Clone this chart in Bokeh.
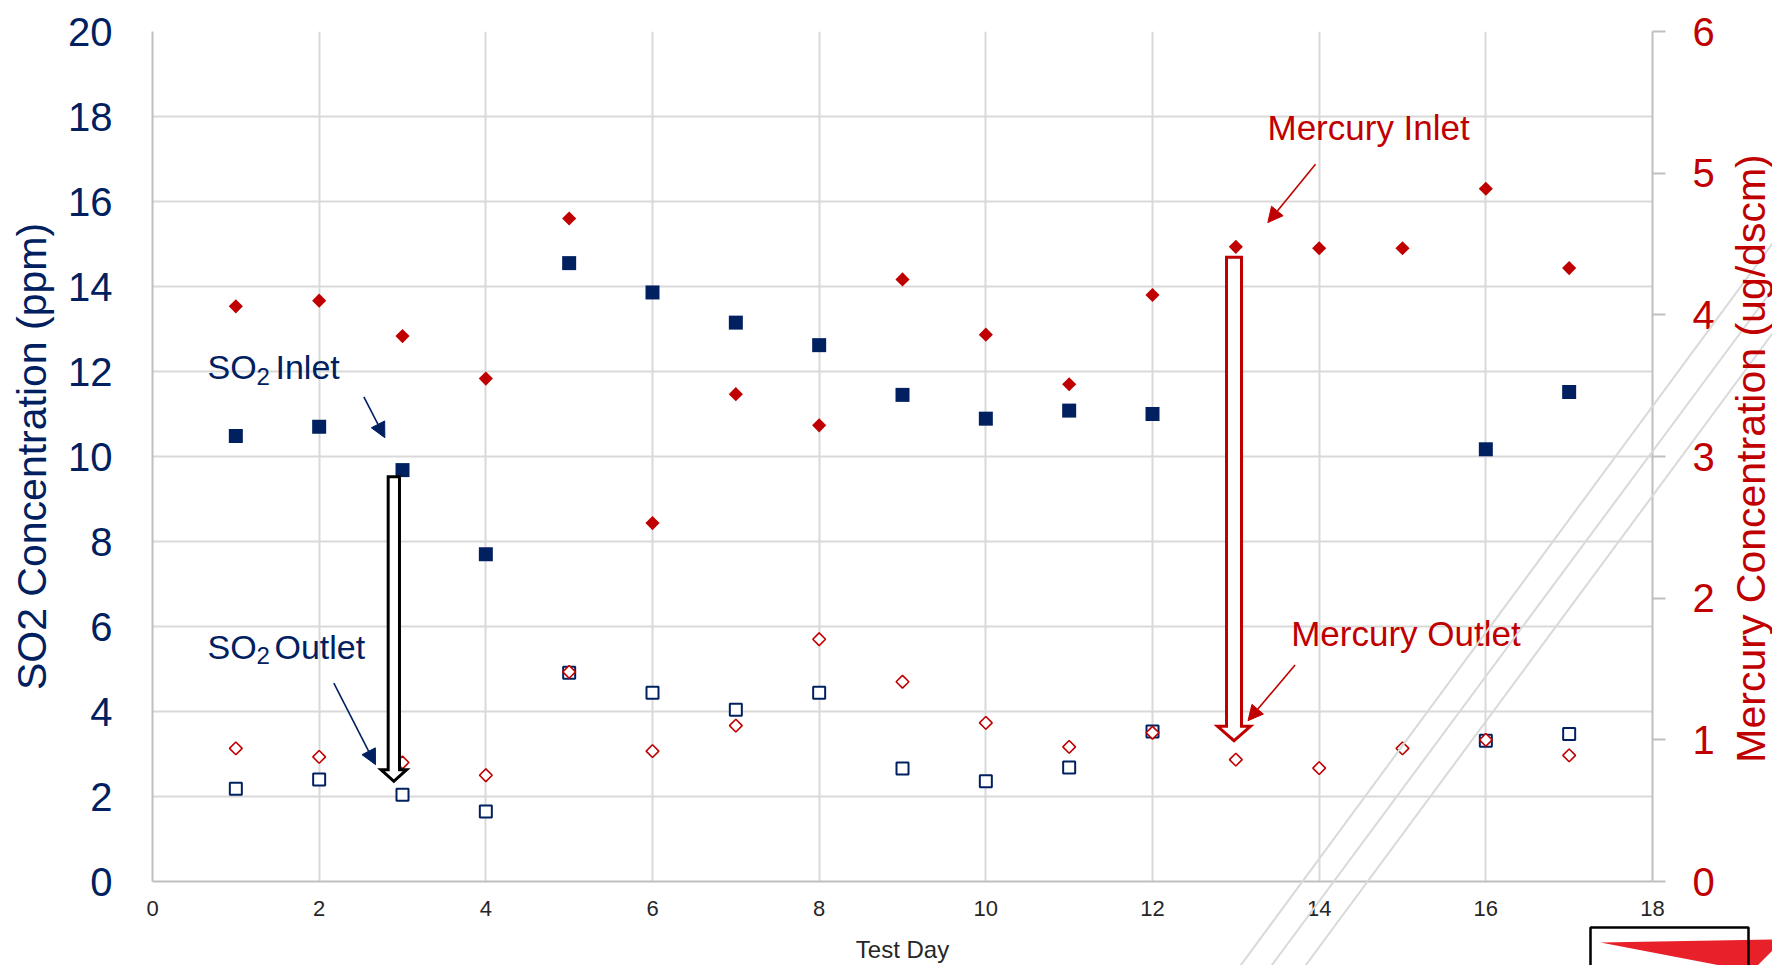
import math
from bokeh.plotting import figure
from bokeh.models import (Range1d, LinearAxis, FixedTicker, Label, Arrow,
                          NormalHead)
from bokeh.core.properties import value
from bokeh.embed import file_html
from bokeh.resources import INLINE

# ---------------- data ----------------
so2_days = [1, 2, 3, 4, 5, 6, 7, 8, 9, 10, 11, 12, 16, 17]
so2_inlet = [10.48, 10.70, 9.68, 7.70, 14.55, 13.86, 13.15, 12.62, 11.45, 10.89, 11.08, 11.00, 10.17, 11.52]
so2_outlet = [2.18, 2.40, 2.04, 1.65, 4.91, 4.44, 4.04, 4.44, 2.66, 2.36, 2.68, 3.53, 3.31, 3.47]

hg_days = [1, 2, 3, 4, 5, 6, 7, 8, 9, 10, 11, 12, 13, 14, 15, 16, 17]
hg_inlet = [4.06, 4.10, 3.85, 3.55, 4.68, 2.53, 3.44, 3.22, 4.25, 3.86, 3.51, 4.14, 4.48, 4.47, 4.47, 4.89, 4.33]
hg_outlet = [0.94, 0.88, 0.84, 0.75, 1.48, 0.92, 1.10, 1.71, 1.41, 1.12, 0.95, 1.05, 0.86, 0.80, 0.94, 1.00, 0.89]

x_ticks = [0, 2, 4, 6, 8, 10, 12, 14, 16, 18]
so2_ticks = [0, 2, 4, 6, 8, 10, 12, 14, 16, 18, 20]
hg_ticks = [0, 1, 2, 3, 4, 5, 6]

# ---------------- style ----------------
NAVY = "#002060"
RED = "#C00000"
GRID = "#D9D9D9"
AXIS = "#BFBFBF"
FONT = "Liberation Sans"

W, H = 1772, 965
p = figure(width=W, height=H, output_backend="svg", toolbar_location=None,
           x_range=Range1d(0, 18), y_range=Range1d(0, 20),
           min_border_left=152, min_border_right=120,
           min_border_top=31, min_border_bottom=83)
p.extra_y_ranges = {"hg": Range1d(0, 6)}
p.outline_line_color = None
p.background_fill_color = "white"
p.border_fill_color = "white"

# px per data unit (frame is 1500 x 851)
PXD = 1500 / 18
PXV = 851 / 20

# grids
p.xgrid.ticker = FixedTicker(ticks=x_ticks)
p.ygrid.ticker = FixedTicker(ticks=so2_ticks)
for g in (p.xgrid, p.ygrid):
    g.grid_line_color = GRID
    g.grid_line_width = 2

# bottom axis
xa = p.xaxis[0]
xa.ticker = FixedTicker(ticks=x_ticks)
xa.axis_label = "Test Day"
xa.axis_label_text_font = FONT
xa.axis_label_text_font_size = "24px"
xa.axis_label_text_font_style = "normal"
xa.axis_label_text_color = "#262626"
xa.axis_label_standoff = 17
xa.major_label_text_font = FONT
xa.major_label_text_font_size = "22px"
xa.major_label_text_color = "#262626"
xa.major_label_standoff = 19
xa.major_tick_out = 0
xa.major_tick_in = 0
xa.minor_tick_out = 0
xa.minor_tick_in = 0
xa.axis_line_color = AXIS
xa.axis_line_width = 2

# left axis
ya = p.yaxis[0]
ya.ticker = FixedTicker(ticks=so2_ticks)
ya.axis_label = "SO2 Concentration (ppm)"
ya.axis_label_text_font = FONT
ya.axis_label_text_font_size = "41px"
ya.axis_label_text_font_style = "normal"
ya.axis_label_text_color = NAVY
ya.axis_label_standoff = 10
ya.major_label_text_font = FONT
ya.major_label_text_font_size = "40px"
ya.major_label_text_color = NAVY
ya.major_label_standoff = 40
ya.major_tick_out = 0
ya.major_tick_in = 0
ya.minor_tick_out = 0
ya.minor_tick_in = 0
ya.axis_line_color = AXIS
ya.axis_line_width = 2

# right axis (its title is drawn in the overlay so that it reads bottom-to-top)
ra = LinearAxis(y_range_name="hg", ticker=FixedTicker(ticks=hg_ticks))
ra.major_label_text_font = FONT
ra.major_label_text_font_size = "40px"
ra.major_label_text_color = RED
ra.major_label_standoff = 27
ra.major_tick_out = 13
ra.major_tick_in = 0
ra.minor_tick_out = 0
ra.minor_tick_in = 0
ra.major_tick_line_color = AXIS
ra.major_tick_line_width = 2
ra.axis_line_color = AXIS
ra.axis_line_width = 2
p.add_layout(ra, "right")

# ---------------- series ----------------
p.scatter(so2_days, so2_inlet, marker="square", size=14,
          fill_color=NAVY, line_color=NAVY, line_width=0)
p.scatter(so2_days, so2_outlet, marker="square", size=12,
          fill_color="white", line_color=NAVY, line_width=2)
p.scatter(hg_days, hg_inlet, marker="square", angle=math.pi / 4, size=10,
          fill_color=RED, line_color=RED, line_width=0, y_range_name="hg")
p.scatter(hg_days, hg_outlet, marker="square", angle=math.pi / 4, size=9,
          fill_color="white", line_color=RED, line_width=1.6, y_range_name="hg")


# ---------------- annotations ----------------
def block_arrow(xc, y_top, y_tip, shaft_px, head_px, head_h_px, color):
    sw = shaft_px / 2 / PXD
    hw = head_px / 2 / PXD
    hh = head_h_px / PXV
    xs = [xc - sw, xc + sw, xc + sw, xc + hw, xc, xc - hw, xc - sw]
    ys = [y_top, y_top, y_tip + hh, y_tip + hh, y_tip, y_tip + hh, y_tip + hh]
    p.patch(xs, ys, fill_color="white", line_color=color, line_width=3,
            line_join="miter")


block_arrow(2.896, 9.525, 2.357, 11.3, 25.7, 11.7, "black")
block_arrow(12.978, 14.689, 3.314, 15, 33, 14.3, RED)


def arrow(x0, y0, x1, y1, color):
    p.add_layout(Arrow(end=NormalHead(size=15, fill_color=color, line_color=color,
                                      line_width=1),
                       x_start=x0, y_start=y0, x_end=x1, y_end=y1,
                       line_color=color, line_width=1.6))


arrow(2.536, 11.405, 2.788, 10.442, NAVY)
arrow(2.176, 4.670, 2.676, 2.750, NAVY)
arrow(13.956, 16.874, 13.384, 15.504, RED)
arrow(13.711, 5.095, 13.146, 3.784, RED)


def label(x, y, text, color, size="35px"):
    p.add_layout(Label(x=x, y=y, text=text, text_color=color, text_font=FONT,
                       text_font_size=size, text_baseline="alphabetic",
                       text_align="left"))


# SO2 Inlet (with subscript 2)
label(0.660, 12.105, "SO", NAVY, "34px")
label(1.248, 11.893, "2", NAVY, "24px")
label(1.476, 12.105, "Inlet", NAVY, "34px")
# SO2 Outlet
label(0.660, 5.524, "SO", NAVY, "34px")
label(1.248, 5.313, "2", NAVY, "24px")
label(1.464, 5.524, "Outlet", NAVY, "34px")
# Mercury
label(13.38, 17.738, "Mercury Inlet", RED)
label(13.664, 5.830, "Mercury Outlet", RED)

# ---------------- transparent overlay (page pixels), separate root ----------------
ov = figure(width=W, height=H, output_backend="svg", toolbar_location=None,
            x_range=Range1d(0, W), y_range=Range1d(0, H), min_border=0,
            x_axis_type=None, y_axis_type=None)
ov.outline_line_color = None
ov.background_fill_alpha = 0
ov.border_fill_alpha = 0
ov.styles = {"position": "absolute", "top": "0px", "left": "0px"}


def fy(vals):
    return [H - v for v in vals]


# decorative diagonal lines of the slide background
ov.segment(x0=[1240, 1271, 1305], y0=fy([965, 965, 965]),
           x1=[1772, 1772, 1772], y1=fy([243, 289, 333]),
           line_color=GRID, line_width=2)

# right axis title
ov.text(x=[1750], y=fy([458]), text=["Mercury Concentration (ug/dscm)"],
        angle=math.pi / 2, text_align="center", text_baseline="middle",
        text_font=value(FONT), text_font_size="41px", text_color=RED)

# logo fragment at the bottom right corner of the slide
ov.patch(x=[1600, 1772, 1772, 1757, 1720], y=fy([942, 939, 950, 965, 965]),
         fill_color="#E8202A", line_color=None)
ov.line(x=[1590, 1590, 1748, 1748], y=fy([975, 927, 927, 975]),
        line_color="black", line_width=2.5)

open("out.html", "w").write(file_html([p, ov], INLINE))
